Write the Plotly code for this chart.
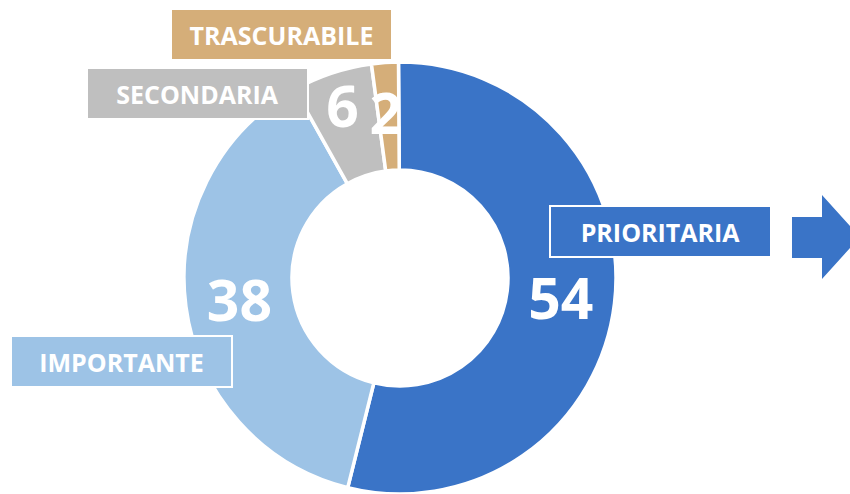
import plotly.graph_objects as go

W, H = 850, 494

categories = ["PRIORITARIA", "IMPORTANTE", "SECONDARIA", "TRASCURABILE"]
values = [54, 38, 6, 2]
colors = ["#3A74C7", "#9DC3E6", "#BFBFBF", "#D5AE79"]
# the tiny slice label sits lower in the ring (blank first line pushes it inward)
text_templates = ["%{value}", "%{value}", "%{value}", "\u00a0<br>%{value}"]

# label box centres in pixel coords (x from left, y from top)
label_pos = {
    "PRIORITARIA": (660, 231.5),
    "IMPORTANTE": (121.5, 361.5),
    "SECONDARIA": (197.5, 93.5),
    "TRASCURABILE": (281.5, 35),
}

FONT = "Open Sans"


def px(x):
    return x / W


def py(y):
    return (H - y) / H


R = 216
cx, cy = 400, H - R
fig = go.Figure(
    go.Pie(
        labels=categories,
        values=values,
        marker=dict(colors=colors, line=dict(color="white", width=3.5)),
        hole=0.5,
        sort=False,
        direction="clockwise",
        rotation=-0.4,
        texttemplate=text_templates,
        textposition="inside",
        insidetextorientation="horizontal",
        textfont=dict(family=FONT, size=57, color="white", weight="bold"),
        hoverinfo="label+value",
        showlegend=False,
        domain=dict(x=[px(cx - R), px(cx + R)], y=[0, 2 * R / H]),
    )
)

annotations = []
for cat, col in zip(categories, colors):
    x, y = label_pos[cat]
    annotations.append(
        dict(
            x=px(x), y=py(y), xref="paper", yref="paper",
            xanchor="center", yanchor="middle",
            text=f"<b>{cat}</b>", showarrow=False,
            font=dict(family=FONT, size=25, color="white"),
            bgcolor=col, bordercolor="white", borderwidth=2, borderpad=0,
            width=219, height=49, align="center", valign="middle",
        )
    )

# block arrow at the right
pts = [(792, 217), (822, 217), (822, 195), (860, 237), (822, 279), (822, 258), (792, 258)]
path = "M " + " L ".join(f"{px(a):.5f},{py(b):.5f}" for a, b in pts) + " Z"

fig.update_layout(
    width=W, height=H,
    margin=dict(l=0, r=0, t=0, b=0),
    paper_bgcolor="white", plot_bgcolor="white",
    uniformtext=dict(minsize=57, mode="show"),
    annotations=annotations,
    shapes=[dict(type="path", path=path, xref="paper", yref="paper",
                 fillcolor="#3A74C7", line=dict(width=0), layer="above")],
)

fig.write_html(
    "out.html",
    config={"displayModeBar": False},
    post_script="document.body.style.margin='0px';document.body.style.overflow='hidden';",
)
